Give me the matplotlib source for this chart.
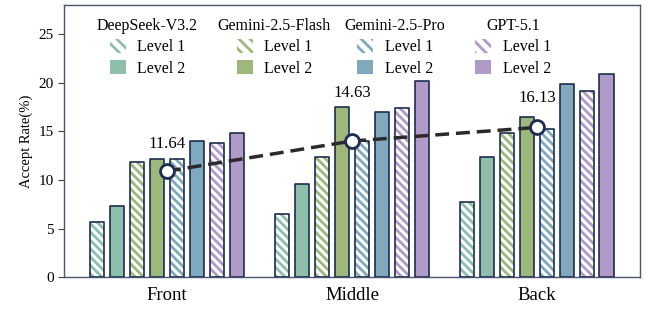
import matplotlib.pyplot as plt
import numpy as np
from matplotlib.patches import Patch
from matplotlib.legend import Legend

plt.rcParams['font.family'] = ['Liberation Serif', 'DejaVu Serif']
plt.rcParams['hatch.linewidth'] = 2.0

positions = ['Front', 'Middle', 'Back']
models = ['DeepSeek-V3.2', 'Gemini-2.5-Flash', 'Gemini-2.5-Pro', 'GPT-5.1']
colors = ['#8dbfaa', '#9cb87a', '#80a9bd', '#b09ac8']

# values per model: [Front, Middle, Back]
level1 = {
    'DeepSeek-V3.2': [5.7, 6.5, 7.7],
    'Gemini-2.5-Flash': [11.8, 12.4, 14.8],
    'Gemini-2.5-Pro': [12.2, 14.0, 15.2],
    'GPT-5.1': [13.75, 17.4, 19.2],
}
level2 = {
    'DeepSeek-V3.2': [7.3, 9.55, 12.4],
    'Gemini-2.5-Flash': [12.2, 17.5, 16.5],
    'Gemini-2.5-Pro': [14.0, 17.0, 19.9],
    'GPT-5.1': [14.8, 20.2, 20.9],
}
trend = [10.9, 14.0, 15.4]
trend_labels = ['11.64', '14.63', '16.13']

edge = '#1c2d4f'
hatch = '\\' * 4
x = np.arange(len(positions))
pitch = 0.108
width = 0.079

fig = plt.figure(figsize=(6.47, 3.10), dpi=100)
ax = fig.add_axes([0.099, 0.106, 0.890, 0.878])

i = 0
for m, c in zip(models, colors):
    for lvl, vals in ((1, level1[m]), (2, level2[m])):
        xs = x + (i - 3.5) * pitch
        if lvl == 1:
            ax.bar(xs, vals, width, color='white', edgecolor=c, hatch=hatch, linewidth=0, zorder=2)
            ax.bar(xs, vals, width, fill=False, edgecolor=edge, linewidth=1.2, joinstyle='round', zorder=3)
        else:
            ax.bar(xs, vals, width, color=c, edgecolor=edge, linewidth=1.2, joinstyle='round', zorder=3)
        i += 1

ax.plot(x, trend, linestyle='--', color='#2a2a2a', linewidth=2.5, dashes=(4, 2), zorder=4)
ax.plot(x, trend, linestyle='none', marker='o', markersize=10, markerfacecolor='white',
        markeredgecolor=edge, markeredgewidth=2, zorder=5)
offsets = [27, 48, 29]
for xi, yi, lab, off in zip(x, trend, trend_labels, offsets):
    ax.annotate(lab, (xi, yi), xytext=(0, off * 0.72), textcoords='offset points',
                ha='center', va='center', fontsize=12, zorder=6)

ax.set_xlim(-0.557, 2.557)
ax.set_ylim(0, 28)
ax.set_yticks([0, 5, 10, 15, 20, 25])
ax.set_xticks(x)
ax.set_xticklabels(positions, fontsize=13.5)
ax.tick_params(axis='y', labelsize=11, color='#3a4560', length=4)
ax.tick_params(axis='x', length=0, pad=7)
ax.set_ylabel('Accept Rate(%)', fontsize=10.5)
for s in ax.spines.values():
    s.set_color('#4a5670')
    s.set_linewidth(1.0)

legend_x = [0.145, 0.365, 0.575, 0.78]
for m, c, lx in zip(models, colors, legend_x):
    handles = [Patch(facecolor='white', edgecolor=c, hatch='\\\\\\', linewidth=0),
               Patch(facecolor=c, edgecolor=c, linewidth=0)]
    leg = Legend(ax, handles, ['Level 1', 'Level 2'], title=m, loc='upper center',
                 bbox_to_anchor=(lx, 1.0), frameon=False, fontsize=11.5, title_fontsize=11.5,
                 handlelength=1.0, handleheight=1.0, handletextpad=0.7, labelspacing=0.3,
                 borderpad=0.3)
    ax.add_artist(leg)

fig.savefig('out.png', dpi=100)
